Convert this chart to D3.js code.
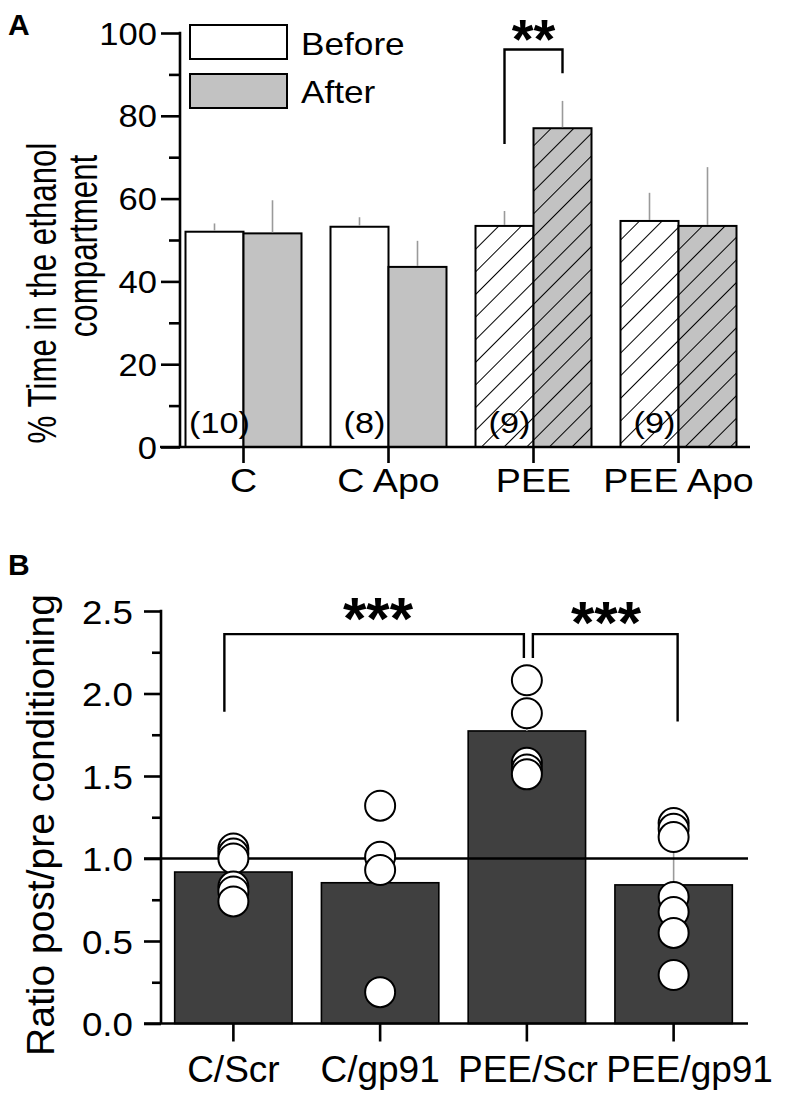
<!DOCTYPE html>
<html><head><meta charset="utf-8">
<script src="https://cdn.jsdelivr.net/npm/d3@7"></script>
<style>
html,body{margin:0;padding:0;background:#fff;}
svg{display:block;}
text{font-family:"Liberation Sans",Arial,Helvetica,sans-serif;fill:#000;}
</style></head>
<body>
<svg id="chart" width="786" height="1102"></svg>
<script>
// ---------- Panel A data ----------
const groupsA = ["C", "C Apo", "PEE", "PEE Apo"];
const nLabelsA = ["(10)", "(8)", "(9)", "(9)"];
const seriesA = ["Before", "After"];
const beforeMean = [52.0, 53.2, 53.4, 54.6];
const beforeErr = [2.0, 2.3, 3.6, 6.8];
const afterMean = [51.6, 43.5, 77.0, 53.4];
const afterErr = [8.0, 6.3, 6.6, 14.2];
const hatchedA = [false, false, true, true];
const ticksA = [0, 20, 40, 60, 80, 100];
const minorTicksA = [10, 30, 50, 70, 90];
const sigA = { from: 2, to: 2, label: "**", top: 96, leftBottom: 73.2, rightBottom: 90.3 };

// ---------- Panel B data ----------
const groupsB = ["C/Scr", "C/gp91", "PEE/Scr", "PEE/gp91"];
const meansB = [0.918, 0.853, 1.773, 0.84];
const errB = [0.05, 0.24, 0.12, 0.21];
const pointsB = [
  [1.06, 1.03, 1.0, 0.83, 0.80, 0.74],
  [1.32, 1.01, 0.93, 0.19],
  [2.08, 1.88, 1.58, 1.54, 1.51],
  [1.215, 1.18, 1.13, 0.767, 0.676, 0.549, 0.294]
];
const ticksB = [0, 0.5, 1.0, 1.5, 2.0, 2.5];
const minorTicksB = [0.25, 0.75, 1.25, 1.75, 2.25];
const refLineB = 1.0;
const sigB = [
  { from: 0, to: 2, label: "***", top: 2.36, leftBottom: 1.89, rightBottom: 2.215, dxL: -9, dxR: -3 },
  { from: 2, to: 3, label: "***", top: 2.36, leftBottom: 2.215, rightBottom: 1.83, dxL: 6, dxR: 4 }
];

const svg = d3.select("#chart");

function txt(g, x, y, s, o) {
  o = o || {};
  const sx = o.sx || 1;
  return g.append("text")
    .attr("transform", `translate(${x},${y}) scale(${sx},1)` + (o.rot ? " rotate(-90)" : ""))
    .attr("text-anchor", o.anchor || "middle")
    .style("font-size", (o.size || 30) + "px")
    .style("font-weight", o.bold ? "bold" : "normal")
    .text(s);
}

// patterns
const defs = svg.append("defs");
function hatch(id, bg) {
  const p = defs.append("pattern").attr("id", id)
    .attr("patternUnits", "userSpaceOnUse")
    .attr("width", 16).attr("height", 16)
    .attr("patternTransform", "rotate(45)");
  p.append("rect").attr("width", 16).attr("height", 16).attr("fill", bg);
  p.append("line").attr("x1", 0).attr("y1", 0).attr("x2", 0).attr("y2", 16)
    .attr("stroke", "#000").attr("stroke-width", 2);
}
const WHITE = "#ffffff", GRAY = "#c2c2c2";
hatch("hatchW", WHITE);
hatch("hatchG", GRAY);

// ================= PANEL A =================
const gA = svg.append("g");
const xA = d3.scaleBand().domain(groupsA).range([171, 751]).paddingInner(0.2).paddingOuter(0.1);
const xAsub = d3.scaleBand().domain(seriesA).range([0, xA.bandwidth()]);
const yA = d3.scaleLinear().domain([0, 100]).range([447, 33]);
const SXA = 1.14;

const barDataA = [];
groupsA.forEach((g, i) => {
  barDataA.push({ g, s: "Before", v: beforeMean[i], e: beforeErr[i], h: hatchedA[i] });
  barDataA.push({ g, s: "After", v: afterMean[i], e: afterErr[i], h: hatchedA[i] });
});
gA.selectAll("rect.bar").data(barDataA).join("rect").attr("class", "bar")
  .attr("x", d => xA(d.g) + xAsub(d.s))
  .attr("y", d => yA(d.v))
  .attr("width", xAsub.bandwidth())
  .attr("height", d => yA(0) - yA(d.v))
  .attr("fill", d => d.h ? (d.s === "Before" ? "url(#hatchW)" : "url(#hatchG)") : (d.s === "Before" ? WHITE : GRAY))
  .attr("stroke", "#000").attr("stroke-width", 2);
gA.selectAll("line.err").data(barDataA).join("line").attr("class", "err")
  .attr("x1", d => xA(d.g) + xAsub(d.s) + xAsub.bandwidth() / 2)
  .attr("x2", d => xA(d.g) + xAsub(d.s) + xAsub.bandwidth() / 2)
  .attr("y1", d => yA(d.v) - 1)
  .attr("y2", d => yA(d.v + d.e))
  .attr("stroke", "#9a9a9a").attr("stroke-width", 1.6);

// y axis
gA.append("g").attr("transform", `translate(180,0)`)
  .call(d3.axisLeft(yA).tickValues(ticksA).tickSize(19).tickFormat(""))
  .call(a => { a.select(".domain").remove(); a.selectAll(".tick line").attr("stroke", "#000").attr("stroke-width", 2.6); });
gA.append("g").attr("transform", `translate(180,0)`)
  .call(d3.axisLeft(yA).tickValues(minorTicksA).tickSize(11).tickFormat(""))
  .call(a => { a.select(".domain").remove(); a.selectAll(".tick line").attr("stroke", "#000").attr("stroke-width", 2.6); });
gA.append("line").attr("x1", 180).attr("x2", 180).attr("y1", yA(100) - 1.3).attr("y2", yA(0))
  .attr("stroke", "#000").attr("stroke-width", 2.6);
ticksA.forEach(t => txt(gA, 157, yA(t) + 11.5, String(t), { anchor: "end", size: 32, sx: 1.08 }));

// x axis
gA.append("line").attr("x1", 160).attr("x2", 750).attr("y1", yA(0)).attr("y2", yA(0))
  .attr("stroke", "#000").attr("stroke-width", 2.6);
gA.append("g").attr("transform", `translate(0,${yA(0)})`)
  .call(d3.axisBottom(xA).tickSize(16).tickFormat(""))
  .call(a => { a.select(".domain").remove(); a.selectAll(".tick line").attr("stroke", "#000").attr("stroke-width", 2.6); });
groupsA.forEach(g => txt(gA, xA(g) + xA.bandwidth() / 2, 492, g, { size: 33, sx: SXA }));

// n labels
groupsA.forEach((g, i) => txt(gA, xA(g) + xAsub("Before") + xAsub.bandwidth() / 2 + 5, 433, nLabelsA[i], { size: 30, sx: SXA }));

// significance A
{
  const xl = xA(groupsA[sigA.from]) + xAsub("Before") + xAsub.bandwidth() / 2;
  const xr = xA(groupsA[sigA.to]) + xAsub("After") + xAsub.bandwidth() / 2;
  gA.append("path")
    .attr("d", `M${xl},${yA(sigA.leftBottom)}V${yA(sigA.top)}H${xr}V${yA(sigA.rightBottom)}`)
    .attr("fill", "none").attr("stroke", "#000").attr("stroke-width", 2.4);
  txt(gA, (xl + xr) / 2, 58, sigA.label, { size: 56, bold: true });
}

// legend
seriesA.forEach((s, i) => {
  gA.append("rect").attr("x", 190).attr("y", 25 + i * 49).attr("width", 97).attr("height", 34)
    .attr("fill", s === "Before" ? WHITE : GRAY).attr("stroke", "#000").attr("stroke-width", 2);
  txt(gA, 301, 55 + i * 48, s, { anchor: "start", size: 32, sx: 1.1 });
});

// y title A
txt(gA, 56, 293, "% Time in the ethanol", { rot: true, size: 31.3, sx: 1.3 });
txt(gA, 97, 246, "compartment", { rot: true, size: 31.3, sx: 1.3 });

txt(svg, 8, 35, "A", { anchor: "start", size: 30, bold: true });

// ================= PANEL B =================
const gB = svg.append("g");
const xB = d3.scaleBand().domain(groupsB).range([160, 747]).paddingInner(0.2).paddingOuter(0.1);
const yB = d3.scaleLinear().domain([0, 2.5]).range([1023.5, 611]);
const cxB = g => xB(g) + xB.bandwidth() / 2;

gB.selectAll("rect.bar").data(groupsB).join("rect").attr("class", "bar")
  .attr("x", g => xB(g)).attr("y", (g, i) => yB(meansB[i]))
  .attr("width", xB.bandwidth())
  .attr("height", (g, i) => yB(0) - yB(meansB[i]))
  .attr("fill", "#404040").attr("stroke", "#000").attr("stroke-width", 1.6);

gB.selectAll("line.err").data(groupsB).join("line").attr("class", "err")
  .attr("x1", g => cxB(g)).attr("x2", g => cxB(g))
  .attr("y1", (g, i) => yB(meansB[i])).attr("y2", (g, i) => yB(meansB[i] + errB[i]))
  .attr("stroke", "#9a9a9a").attr("stroke-width", 1.6);

gB.append("line").attr("x1", 144).attr("x2", 748).attr("y1", yB(refLineB)).attr("y2", yB(refLineB))
  .attr("stroke", "#000").attr("stroke-width", 2.6);

const ptsB = [];
groupsB.forEach((g, i) => pointsB[i].forEach(v => ptsB.push({ g, v })));
gB.selectAll("circle.pt").data(ptsB).join("circle").attr("class", "pt")
  .attr("cx", d => cxB(d.g)).attr("cy", d => yB(d.v)).attr("r", 15)
  .attr("fill", "#fff").attr("stroke", "#000").attr("stroke-width", 2);

// y axis
gB.append("g").attr("transform", `translate(161,0)`)
  .call(d3.axisLeft(yB).tickValues(ticksB).tickSize(17).tickFormat(""))
  .call(a => { a.select(".domain").remove(); a.selectAll(".tick line").attr("stroke", "#000").attr("stroke-width", 2.6); });
gB.append("g").attr("transform", `translate(161,0)`)
  .call(d3.axisLeft(yB).tickValues(minorTicksB).tickSize(9).tickFormat(""))
  .call(a => { a.select(".domain").remove(); a.selectAll(".tick line").attr("stroke", "#000").attr("stroke-width", 2.6); });
gB.append("line").attr("x1", 161).attr("x2", 161).attr("y1", yB(2.5) - 1.3).attr("y2", yB(0))
  .attr("stroke", "#000").attr("stroke-width", 2.6);
ticksB.forEach(t => txt(gB, 133, yB(t) + 12.5, d3.format(".1f")(t), { anchor: "end", size: 34, sx: 1.08 }));

// x axis
gB.append("line").attr("x1", 144).attr("x2", 748).attr("y1", yB(0)).attr("y2", yB(0))
  .attr("stroke", "#000").attr("stroke-width", 2.6);
gB.append("g").attr("transform", `translate(0,${yB(0)})`)
  .call(d3.axisBottom(xB).tickSize(18).tickFormat(""))
  .call(a => { a.select(".domain").remove(); a.selectAll(".tick line").attr("stroke", "#000").attr("stroke-width", 2.6); });
const labelShiftB = [0, 0, 1, 16];
groupsB.forEach((g, i) => txt(gB, cxB(g) + labelShiftB[i], 1082, g, { size: 37 }));

// significance B
sigB.forEach(s => {
  const xl = cxB(groupsB[s.from]) + s.dxL;
  const xr = cxB(groupsB[s.to]) + s.dxR;
  gB.append("path")
    .attr("d", `M${xl},${yB(s.leftBottom)}V${yB(s.top)}H${xr}V${yB(s.rightBottom)}`)
    .attr("fill", "none").attr("stroke", "#000").attr("stroke-width", 2.4);
});
txt(gB, 378, 639, sigB[0].label, { size: 60, bold: true });
txt(gB, 606, 643, sigB[1].label, { size: 60, bold: true });

// y title B
txt(gB, 54, 825, "Ratio post/pre conditioning", { rot: true, size: 39 });

txt(svg, 8, 575, "B", { anchor: "start", size: 30, bold: true });
</script>
</body></html>
